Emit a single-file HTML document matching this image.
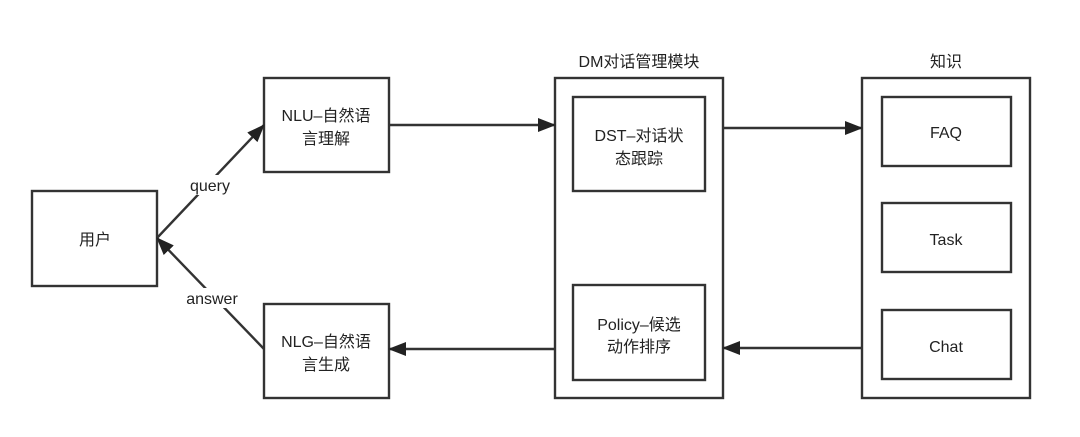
<!DOCTYPE html>
<html><head><meta charset="utf-8"><style>
body{margin:0;background:#fff;}
svg text{font-family:"Liberation Sans","Noto Sans CJK SC",sans-serif;font-size:16px;fill:#222;text-anchor:middle;}
</style></head><body>
<svg width="1080" height="432" xmlns="http://www.w3.org/2000/svg">
<defs>
<marker id="b" markerWidth="18" markerHeight="14" refX="17" refY="7" orient="auto" markerUnits="userSpaceOnUse"><path d="M0,0 L18,7 L0,14 z" fill="#222"/></marker></defs>
<g fill="none" stroke="#333" stroke-width="2.4">
<rect x="32" y="191" width="125" height="95"/>
<rect x="264" y="78" width="125" height="94"/>
<rect x="264" y="304" width="125" height="94"/>
<rect x="555" y="78" width="168" height="320"/>
<rect x="573" y="97" width="132" height="94"/>
<rect x="573" y="285" width="132" height="95"/>
<rect x="862" y="78" width="168" height="320"/>
<rect x="882" y="97" width="129" height="69"/>
<rect x="882" y="203" width="129" height="69"/>
<rect x="882" y="310" width="129" height="69"/>
<line x1="389" y1="125" x2="555" y2="125" marker-end="url(#b)"/>
<line x1="723" y1="128" x2="862" y2="128" marker-end="url(#b)"/>
<line x1="862" y1="348" x2="723" y2="348" marker-end="url(#b)"/>
<line x1="555" y1="349" x2="389" y2="349" marker-end="url(#b)"/>
<line x1="157" y1="238" x2="264" y2="125" marker-end="url(#b)"/>
<line x1="264" y1="349" x2="157" y2="238" marker-end="url(#b)"/>
</g>
<rect x="188" y="175" width="44" height="20" fill="#fff"/>
<rect x="185" y="288" width="56" height="20" fill="#fff"/>
<text x="210" y="191">query</text>
<text x="212" y="304">answer</text>
<text x="95" y="245">用户</text>
<text x="326" y="121">NLU–自然语</text><text x="326" y="144">言理解</text>
<text x="326" y="347">NLG–自然语</text><text x="326" y="370">言生成</text>
<text x="639" y="67">DM对话管理模块</text>
<text x="639" y="141">DST–对话状</text><text x="639" y="164">态跟踪</text>
<text x="639" y="330">Policy–候选</text><text x="639" y="352">动作排序</text>
<text x="946" y="67">知识</text>
<text x="946" y="138">FAQ</text>
<text x="946" y="245">Task</text>
<text x="946" y="352">Chat</text>
</svg>
</body></html>
